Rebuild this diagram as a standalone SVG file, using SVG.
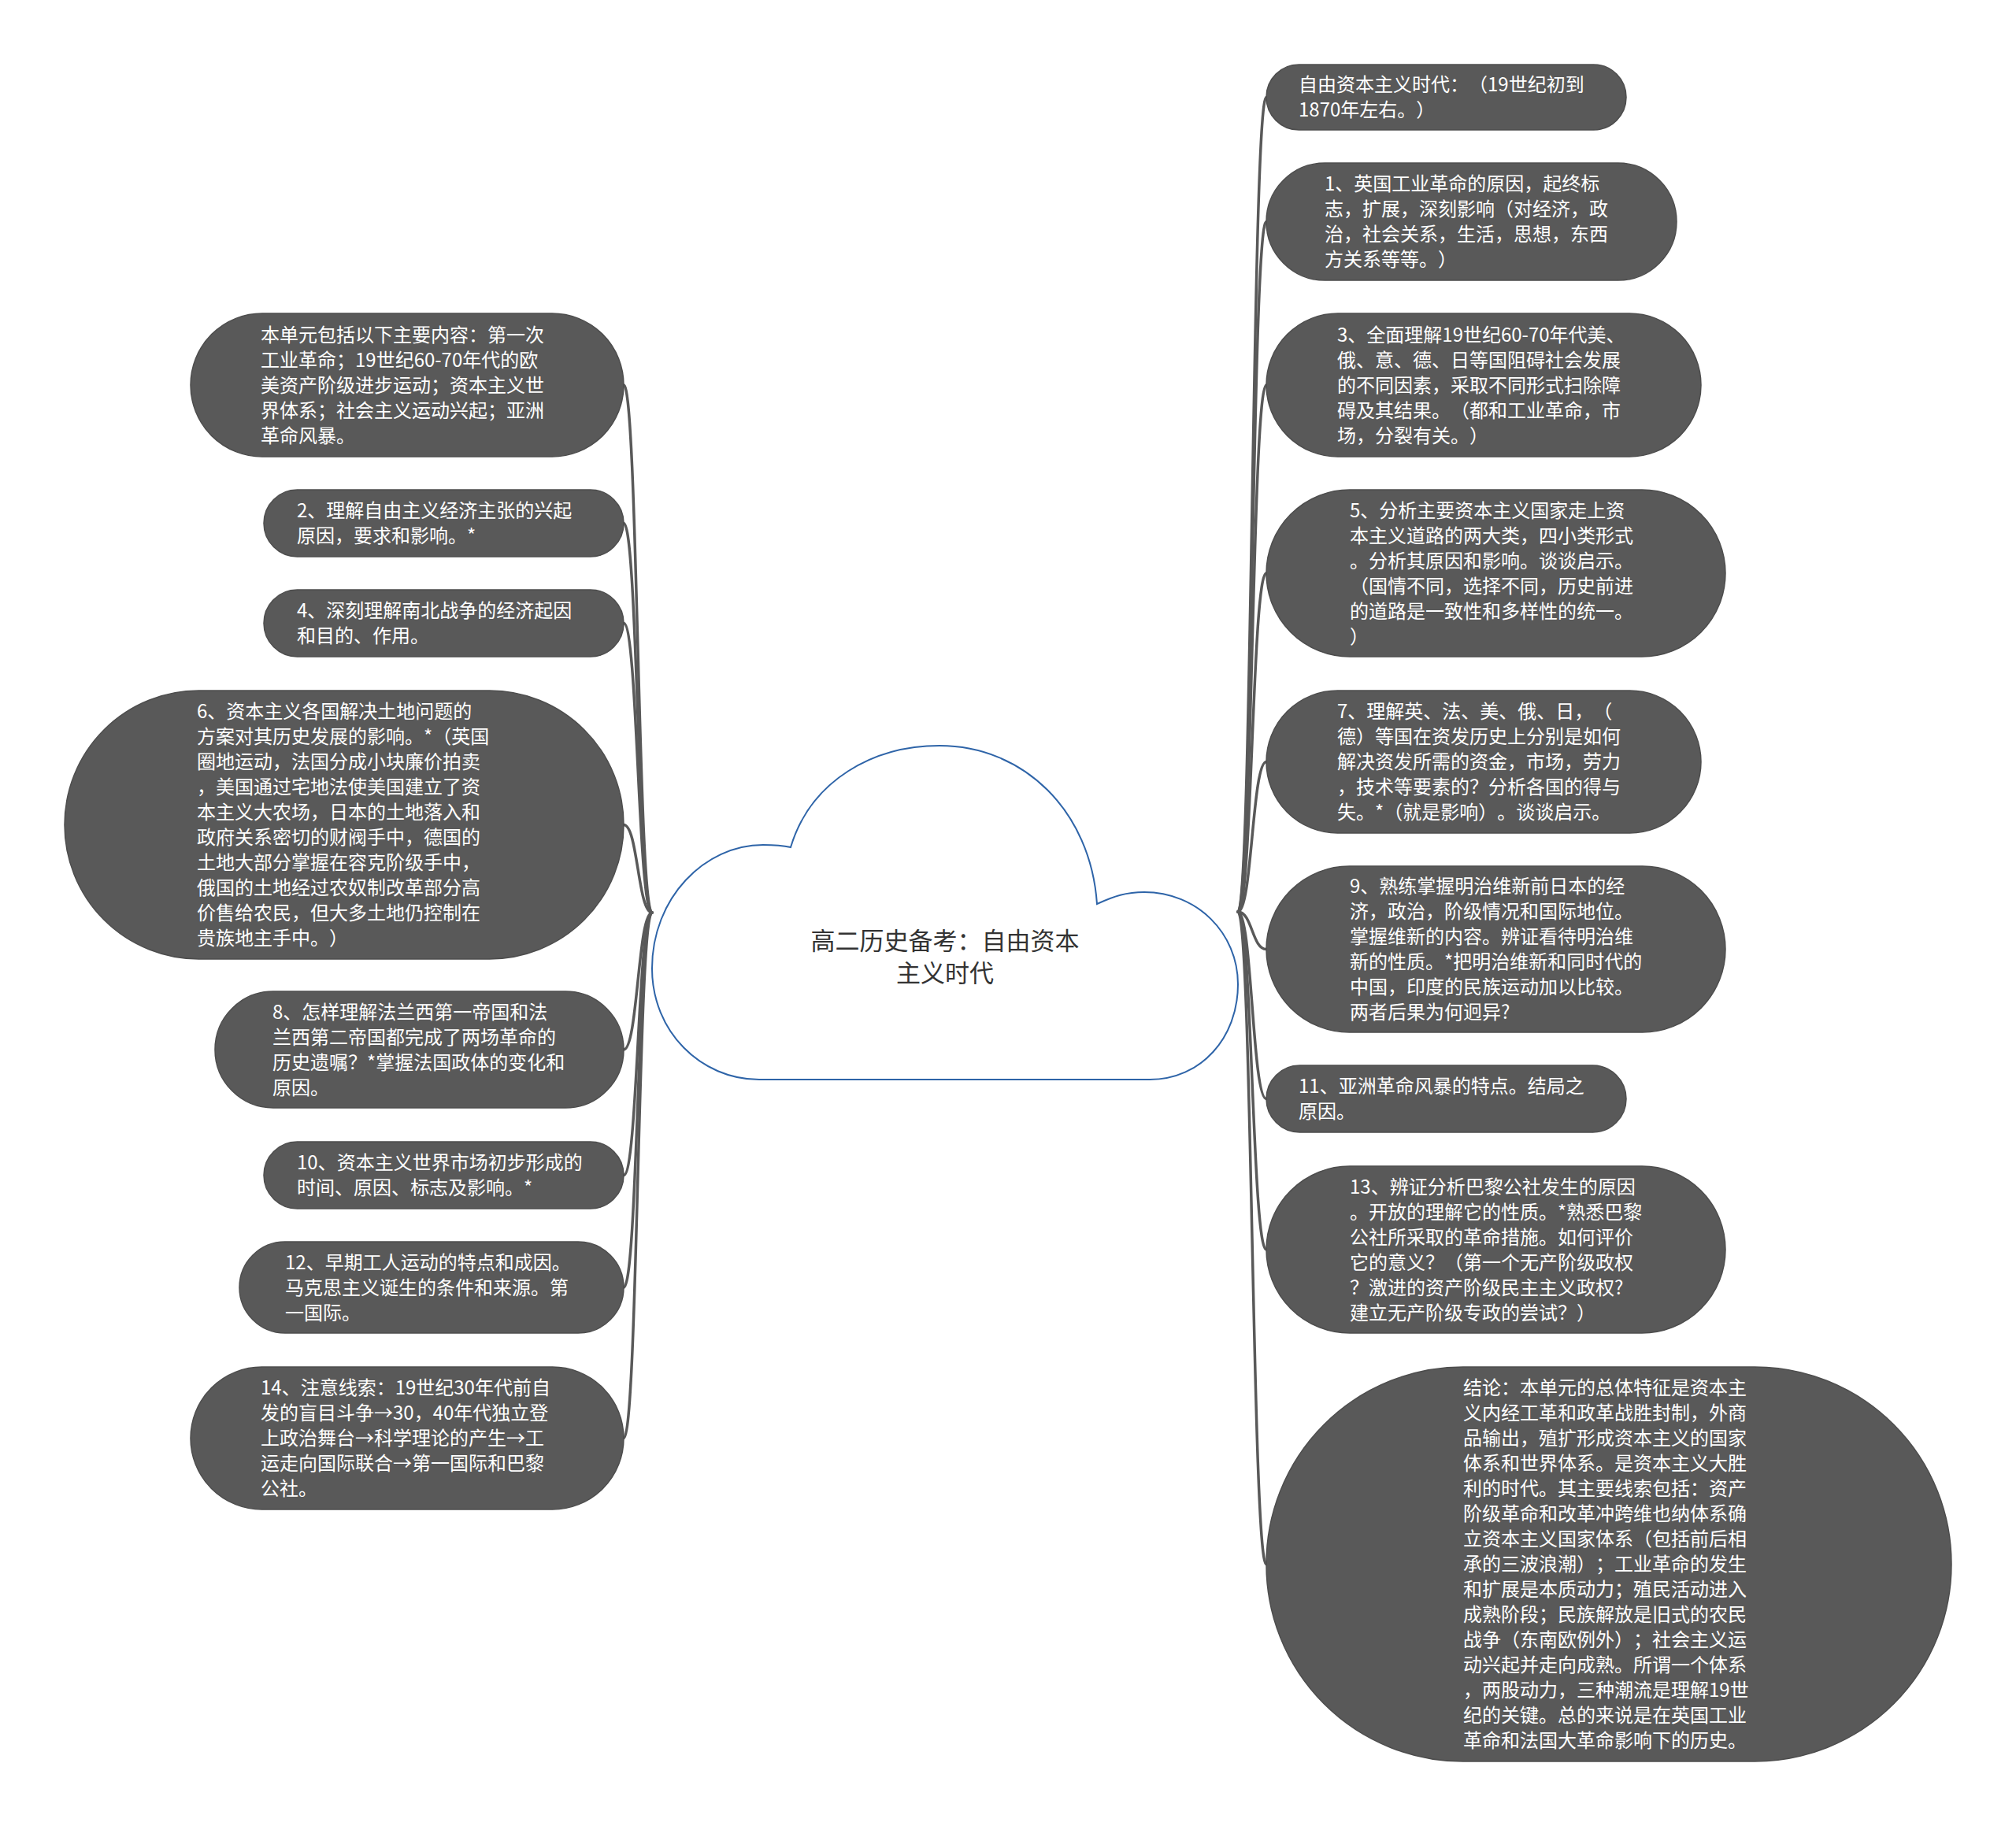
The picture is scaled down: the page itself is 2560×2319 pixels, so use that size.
<svg xmlns="http://www.w3.org/2000/svg" width="2560" height="2319" viewBox="0 0 2560 2319">
<style>
.n{fill:#595959;stroke:#4d4d4d;stroke-width:1.5}
.t{font-family:"Noto Sans CJK SC","Noto Sans",sans-serif;font-size:24px;fill:#ffffff;text-spacing-trim:space-all}
.c{fill:none;stroke:#595959;stroke-width:3.5;stroke-linecap:round}
.ct{font-family:"Noto Sans CJK SC","Noto Sans",sans-serif;font-size:31px;fill:#333333;text-anchor:middle;text-spacing-trim:space-all}
</style>
<rect width="2560" height="2319" fill="#ffffff"/>
<g id="connectors">
<path class="c" d="M828 1159 C810 1159 810 489 792 489"/>
<path class="c" d="M828 1159 C810 1159 810 664.5 792 664.5"/>
<path class="c" d="M828 1159 C810 1159 810 791.5 792 791.5"/>
<path class="c" d="M828 1159 C810 1159 810 1047.5 792 1047.5"/>
<path class="c" d="M828 1159 C810 1159 810 1333 792 1333"/>
<path class="c" d="M828 1159 C810 1159 810 1492.5 792 1492.5"/>
<path class="c" d="M828 1159 C810 1159 810 1635 792 1635"/>
<path class="c" d="M828 1159 C810 1159 810 1826.5 792 1826.5"/>
<path class="c" d="M1572 1158 C1590 1158 1590 123.5 1608 123.5"/>
<path class="c" d="M1572 1158 C1590 1158 1590 281.5 1608 281.5"/>
<path class="c" d="M1572 1158 C1590 1158 1590 489 1608 489"/>
<path class="c" d="M1572 1158 C1590 1158 1590 728 1608 728"/>
<path class="c" d="M1572 1158 C1590 1158 1590 967.5 1608 967.5"/>
<path class="c" d="M1572 1158 C1590 1158 1590 1205.5 1608 1205.5"/>
<path class="c" d="M1572 1158 C1590 1158 1590 1395.5 1608 1395.5"/>
<path class="c" d="M1572 1158 C1590 1158 1590 1587 1608 1587"/>
<path class="c" d="M1572 1158 C1590 1158 1590 1986.5 1608 1986.5"/>
</g>
<g id="root">
<path d="M1004 1076 C1030 990 1110 947 1193 947 C1300 947 1385 1030 1393 1148 C1415 1138 1430 1133 1453 1133 C1520 1133 1572 1185 1572 1250 C1572 1318 1525 1371 1460 1371 L964 1371 C890 1371 828 1310 828 1230 C828 1140 895 1073 969 1073 C985 1073 995 1074 1004 1076 Z" fill="#ffffff" stroke="#2e64a8" stroke-width="2"/>
<text class="ct" x="1200" y="1206">高二历史备考：自由资本</text>
<text class="ct" x="1200" y="1247">主义时代</text>
</g>
<g id="r0"><rect class="n" x="1608" y="82" width="457" height="83" rx="41.5"/>
<text class="t" x="1649"><tspan x="1649" y="116">自由资本主义时代：（19世纪初到</tspan><tspan x="1649" y="148">1870年左右。）</tspan></text></g>
<g id="r1"><rect class="n" x="1608" y="207" width="521" height="149" rx="74.5"/>
<text class="t"><tspan x="1682" y="242">1、英国工业革命的原因，起终标</tspan><tspan x="1682" y="274">志，扩展，深刻影响（对经济，政</tspan><tspan x="1682" y="306">治，社会关系，生活，思想，东西</tspan><tspan x="1682" y="338">方关系等等。）</tspan></text></g>
<g id="r2"><rect class="n" x="1608" y="398" width="552" height="182" rx="91"/>
<text class="t"><tspan x="1698" y="433.5">3、全面理解19世纪60-70年代美、</tspan><tspan x="1698" y="465.5">俄、意、德、日等国阻碍社会发展</tspan><tspan x="1698" y="497.5">的不同因素，采取不同形式扫除障</tspan><tspan x="1698" y="529.5">碍及其结果。（都和工业革命，市</tspan><tspan x="1698" y="561.5">场，分裂有关。）</tspan></text></g>
<g id="r3"><rect class="n" x="1608" y="622" width="583" height="212" rx="106"/>
<text class="t"><tspan x="1714" y="656.5">5、分析主要资本主义国家走上资</tspan><tspan x="1714" y="688.5">本主义道路的两大类，四小类形式</tspan><tspan x="1714" y="720.5">。分析其原因和影响。谈谈启示。</tspan><tspan x="1714" y="752.5">（国情不同，选择不同，历史前进</tspan><tspan x="1714" y="784.5">的道路是一致性和多样性的统一。</tspan><tspan x="1714" y="816.5">）</tspan></text></g>
<g id="r4"><rect class="n" x="1608" y="877" width="552" height="181" rx="90.5"/>
<text class="t"><tspan x="1698" y="912">7、理解英、法、美、俄、日，（</tspan><tspan x="1698" y="944">德）等国在资发历史上分别是如何</tspan><tspan x="1698" y="976">解决资发所需的资金，市场，劳力</tspan><tspan x="1698" y="1008">，技术等要素的？分析各国的得与</tspan><tspan x="1698" y="1040">失。*（就是影响）。谈谈启示。</tspan></text></g>
<g id="r5"><rect class="n" x="1608" y="1100" width="583" height="211" rx="105.5"/>
<text class="t"><tspan x="1714" y="1134">9、熟练掌握明治维新前日本的经</tspan><tspan x="1714" y="1166">济，政治，阶级情况和国际地位。</tspan><tspan x="1714" y="1198">掌握维新的内容。辨证看待明治维</tspan><tspan x="1714" y="1230">新的性质。*把明治维新和同时代的</tspan><tspan x="1714" y="1262">中国，印度的民族运动加以比较。</tspan><tspan x="1714" y="1294">两者后果为何迥异?</tspan></text></g>
<g id="r6"><rect class="n" x="1608" y="1353" width="457" height="85" rx="42.5"/>
<text class="t"><tspan x="1649" y="1388">11、亚洲革命风暴的特点。结局之</tspan><tspan x="1649" y="1420">原因。</tspan></text></g>
<g id="r7"><rect class="n" x="1608" y="1481" width="583" height="212" rx="106"/>
<text class="t"><tspan x="1714" y="1515.5">13、辨证分析巴黎公社发生的原因</tspan><tspan x="1714" y="1547.5">。开放的理解它的性质。*熟悉巴黎</tspan><tspan x="1714" y="1579.5">公社所采取的革命措施。如何评价</tspan><tspan x="1714" y="1611.5">它的意义？（第一个无产阶级政权</tspan><tspan x="1714" y="1643.5">？激进的资产阶级民主主义政权?</tspan><tspan x="1714" y="1675.5">建立无产阶级专政的尝试？）</tspan></text></g>
<g id="r8"><rect class="n" x="1608" y="1736" width="870" height="501" rx="250"/>
<text class="t"><tspan x="1858" y="1771">结论：本单元的总体特征是资本主</tspan><tspan x="1858" y="1803">义内经工革和政革战胜封制，外商</tspan><tspan x="1858" y="1835">品输出，殖扩形成资本主义的国家</tspan><tspan x="1858" y="1867">体系和世界体系。是资本主义大胜</tspan><tspan x="1858" y="1899">利的时代。其主要线索包括：资产</tspan><tspan x="1858" y="1931">阶级革命和改革冲跨维也纳体系确</tspan><tspan x="1858" y="1963">立资本主义国家体系（包括前后相</tspan><tspan x="1858" y="1995">承的三波浪潮）；工业革命的发生</tspan><tspan x="1858" y="2027">和扩展是本质动力；殖民活动进入</tspan><tspan x="1858" y="2059">成熟阶段；民族解放是旧式的农民</tspan><tspan x="1858" y="2091">战争（东南欧例外）；社会主义运</tspan><tspan x="1858" y="2123">动兴起并走向成熟。所谓一个体系</tspan><tspan x="1858" y="2155">，两股动力，三种潮流是理解19世</tspan><tspan x="1858" y="2187">纪的关键。总的来说是在英国工业</tspan><tspan x="1858" y="2219">革命和法国大革命影响下的历史。</tspan></text></g>
<g id="l0"><rect class="n" x="242" y="398" width="550" height="182" rx="91"/>
<text class="t"><tspan x="331" y="433.5">本单元包括以下主要内容：第一次</tspan><tspan x="331" y="465.5">工业革命；19世纪60-70年代的欧</tspan><tspan x="331" y="497.5">美资产阶级进步运动；资本主义世</tspan><tspan x="331" y="529.5">界体系；社会主义运动兴起；亚洲</tspan><tspan x="331" y="561.5">革命风暴。</tspan></text></g>
<g id="l1"><rect class="n" x="335" y="622" width="457" height="85" rx="42.5"/>
<text class="t"><tspan x="377" y="657">2、理解自由主义经济主张的兴起</tspan><tspan x="377" y="689">原因，要求和影响。*</tspan></text></g>
<g id="l2"><rect class="n" x="335" y="749" width="457" height="85" rx="42.5"/>
<text class="t"><tspan x="377" y="784">4、深刻理解南北战争的经济起因</tspan><tspan x="377" y="816">和目的、作用。</tspan></text></g>
<g id="l3"><rect class="n" x="82" y="877" width="710" height="341" rx="170.5"/>
<text class="t"><tspan x="250" y="912">6、资本主义各国解决土地问题的</tspan><tspan x="250" y="944">方案对其历史发展的影响。*（英国</tspan><tspan x="250" y="976">圈地运动，法国分成小块廉价拍卖</tspan><tspan x="250" y="1008">，美国通过宅地法使美国建立了资</tspan><tspan x="250" y="1040">本主义大农场，日本的土地落入和</tspan><tspan x="250" y="1072">政府关系密切的财阀手中，德国的</tspan><tspan x="250" y="1104">土地大部分掌握在容克阶级手中，</tspan><tspan x="250" y="1136">俄国的土地经过农奴制改革部分高</tspan><tspan x="250" y="1168">价售给农民，但大多土地仍控制在</tspan><tspan x="250" y="1200">贵族地主手中。）</tspan></text></g>
<g id="l4"><rect class="n" x="273" y="1259" width="519" height="148" rx="74"/>
<text class="t"><tspan x="346" y="1293.5">8、怎样理解法兰西第一帝国和法</tspan><tspan x="346" y="1325.5">兰西第二帝国都完成了两场革命的</tspan><tspan x="346" y="1357.5">历史遗嘱？*掌握法国政体的变化和</tspan><tspan x="346" y="1389.5">原因。</tspan></text></g>
<g id="l5"><rect class="n" x="335" y="1450" width="457" height="85" rx="42.5"/>
<text class="t"><tspan x="377" y="1485">10、资本主义世界市场初步形成的</tspan><tspan x="377" y="1517">时间、原因、标志及影响。*</tspan></text></g>
<g id="l6"><rect class="n" x="304" y="1577" width="488" height="116" rx="58"/>
<text class="t"><tspan x="362" y="1611.5">12、早期工人运动的特点和成因。</tspan><tspan x="362" y="1643.5">马克思主义诞生的条件和来源。第</tspan><tspan x="362" y="1675.5">一国际。</tspan></text></g>
<g id="l7"><rect class="n" x="242" y="1736" width="550" height="181" rx="90.5"/>
<text class="t"><tspan x="331" y="1771">14、注意线索：19世纪30年代前自</tspan><tspan x="331" y="1803">发的盲目斗争→30，40年代独立登</tspan><tspan x="331" y="1835">上政治舞台→科学理论的产生→工</tspan><tspan x="331" y="1867">运走向国际联合→第一国际和巴黎</tspan><tspan x="331" y="1899">公社。</tspan></text></g>
</svg>
